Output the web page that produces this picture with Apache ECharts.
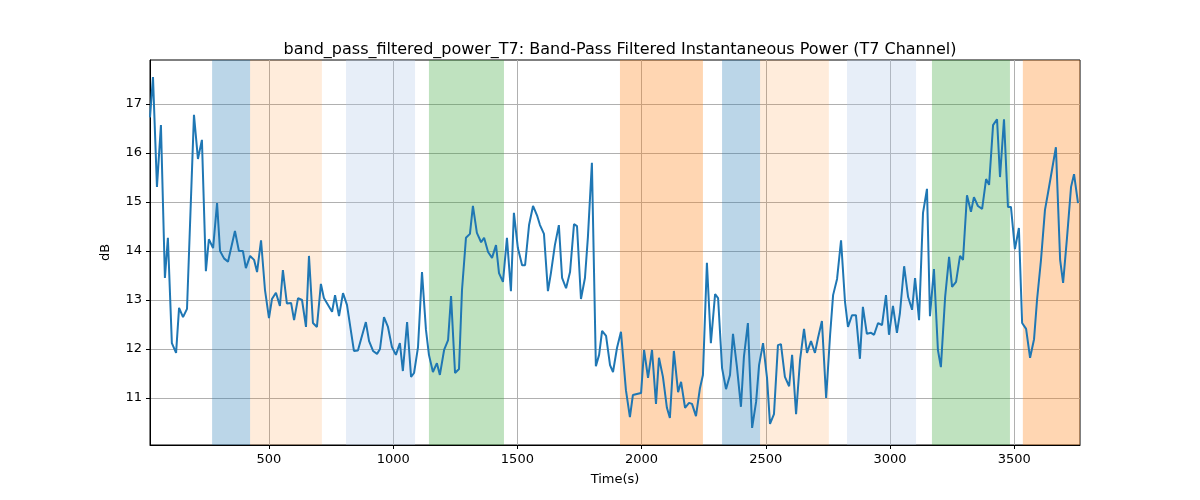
<!DOCTYPE html>
<html>
<head>
<meta charset="utf-8">
<script src="https://cdn.jsdelivr.net/npm/echarts@6/dist/echarts.min.js"></script>
<style>body{margin:0;background:#fff}#main{width:1200px;height:500px}</style>
</head>
<body>
<div id="main"></div>
<script>
var times = [21,33,49,65,81,93,109,126,138,154,170,198,214,230,246,258,275,291,303,319,335,363,379,395,407,424,440,452,468,484,500,512,528,544,556,572,589,601,617,633,649,661,677,693,709,721,754,766,782,798,814,842,858,890,903,919,935,947,963,979,995,1011,1027,1039,1056,1072,1084,1100,1116,1132,1144,1160,1176,1188,1205,1221,1233,1249,1265,1277,1293,1309,1321,1337,1354,1366,1382,1398,1414,1426,1442,1458,1474,1486,1502,1519,1531,1547,1563,1579,1591,1607,1623,1635,1651,1667,1680,1696,1712,1728,1740,1756,1772,1784,1800,1816,1829,1841,1857,1873,1885,1901,1917,1937,1953,1965,1981,1998,2010,2026,2042,2058,2070,2086,2102,2114,2130,2147,2159,2175,2191,2203,2219,2235,2247,2263,2279,2296,2308,2324,2340,2356,2368,2384,2400,2412,2428,2445,2461,2473,2489,2505,2517,2533,2549,2561,2577,2594,2606,2622,2638,2654,2666,2682,2698,2710,2726,2743,2759,2771,2787,2803,2819,2831,2847,2863,2879,2891,2907,2924,2936,2952,2968,2984,2996,3012,3028,3040,3057,3073,3089,3101,3117,3133,3149,3161,3177,3193,3205,3222,3238,3250,3266,3282,3294,3310,3326,3338,3354,3371,3387,3399,3415,3431,3443,3459,3475,3487,3503,3519,3532,3548,3564,3580,3592,3608,3624,3636,3652,3668,3685,3697,3713,3729,3741,3757];
var power = [16.73,17.55,15.31,16.57,13.45,14.27,12.12,11.92,12.84,12.65,12.82,16.78,15.88,16.27,13.59,14.24,14.06,14.98,14.0,13.85,13.78,14.41,14.0,14.0,13.65,13.9,13.82,13.57,14.22,13.2,12.63,13.02,13.15,12.88,13.61,12.93,12.94,12.59,13.04,13.0,12.45,13.9,12.53,12.45,13.33,13.04,12.76,13.1,12.67,13.14,12.9,11.96,11.97,12.55,12.16,11.96,11.9,12.0,12.65,12.45,12.04,11.88,12.12,11.55,12.55,11.43,11.51,12.04,13.57,12.39,11.88,11.53,11.71,11.47,11.98,12.18,13.08,11.51,11.59,13.2,14.27,14.35,14.92,14.37,14.18,14.27,13.98,13.86,14.12,13.55,13.37,14.27,13.18,14.78,14.06,13.71,13.71,14.53,14.92,14.73,14.53,14.35,13.18,13.55,14.12,14.53,13.45,13.24,13.57,14.55,14.51,13.02,13.45,14.29,15.8,11.65,11.88,12.37,12.27,11.67,11.53,12.02,12.35,11.16,10.61,11.06,11.08,11.1,11.98,11.41,11.98,10.88,11.82,11.43,10.8,10.59,11.96,11.12,11.33,10.8,10.9,10.88,10.63,11.2,11.47,13.76,12.12,13.12,13.04,11.61,11.18,11.47,12.31,11.63,10.82,11.84,12.53,10.39,10.92,11.67,12.12,11.41,10.47,10.67,12.08,12.1,11.43,11.24,11.88,10.67,11.78,12.41,11.92,12.16,11.92,12.22,12.57,11.0,12.29,13.1,13.43,14.22,12.96,12.45,12.69,12.69,11.8,12.86,12.31,12.33,12.29,12.53,12.49,13.1,12.29,12.88,12.33,12.73,13.69,13.06,12.8,13.45,12.59,14.78,15.27,12.67,13.63,11.98,11.63,13.06,13.88,13.27,13.37,13.9,13.82,15.14,14.8,15.1,14.92,14.86,15.47,15.35,16.57,16.69,15.51,16.69,14.9,14.9,14.04,14.47,12.53,12.41,11.82,12.2,13.0,13.82,14.84,15.18,15.65,16.12,13.82,13.35,14.29,15.31,15.57,14.98];
var bandStart = [271,424,810,1144,1913,2324,2477,2827,3169,3535];
var bandEnd = [424,713,1088,1446,2247,2477,2754,3105,3483,3765];
var bandColors = ['rgba(31,119,180,0.3)','rgba(255,127,14,0.15)','rgba(174,199,232,0.3)','rgba(44,160,44,0.3)','rgba(255,127,14,0.32)','rgba(31,119,180,0.3)','rgba(255,127,14,0.15)','rgba(174,199,232,0.3)','rgba(44,160,44,0.3)','rgba(255,127,14,0.32)'];
var xTicks = [500,1000,1500,2000,2500,3000,3500];
var yTicks = [11,12,13,14,15,16,17];

var chart = echarts.init(document.getElementById('main'));
var bands = bandStart.map(function (s, i) {
  return [{xAxis: s, itemStyle: {color: bandColors[i]}}, {xAxis: bandEnd[i]}];
});
var font = 'DejaVu Sans';
chart.setOption({
  animation: false,
  title: {
    text: 'band_pass_filtered_power_T7: Band-Pass Filtered Instantaneous Power (T7 Channel)',
    left: 615, top: 37, textAlign: 'center',
    textStyle: {fontFamily: font, fontSize: 16, fontWeight: 'normal', color: '#000'}
  },
  grid: {left: 150, right: 120, top: 60, bottom: 55, show: true, borderColor: '#000', borderWidth: 1, backgroundColor: 'transparent'},
  xAxis: {
    type: 'value', min: 21, max: 3765,
    name: 'Time(s)', nameLocation: 'middle', nameGap: 28,
    nameTextStyle: {fontFamily: font, fontSize: 13, color: '#000'},
    axisLine: {show: true, lineStyle: {color: '#000'}},
    axisTick: {show: true, customValues: xTicks, length: 4, lineStyle: {color: '#000'}},
    axisLabel: {customValues: xTicks, formatter: function (v) { return String(v); }, fontFamily: font, fontSize: 13, color: '#000'},
    splitLine: {show: true, lineStyle: {color: '#b0b0b0', width: 1}}
  },
  yAxis: {
    type: 'value', min: 10.04, max: 17.9,
    name: 'dB', nameLocation: 'middle', nameGap: 38,
    nameTextStyle: {fontFamily: font, fontSize: 13, color: '#000'},
    axisLine: {show: true, lineStyle: {color: '#000'}},
    axisTick: {show: true, customValues: yTicks, length: 4, lineStyle: {color: '#000'}},
    axisLabel: {customValues: yTicks, fontFamily: font, fontSize: 13, color: '#000'},
    splitLine: {show: true, lineStyle: {color: '#b0b0b0', width: 1}}
  },
  series: [{
    type: 'line',
    data: times.map(function (t, i) { return [t, power[i]]; }),
    showSymbol: false,
    lineStyle: {color: '#1f77b4', width: 2},
    z: 3,
    markArea: {silent: true, data: bands}
  }]
});
</script>
</body>
</html>
